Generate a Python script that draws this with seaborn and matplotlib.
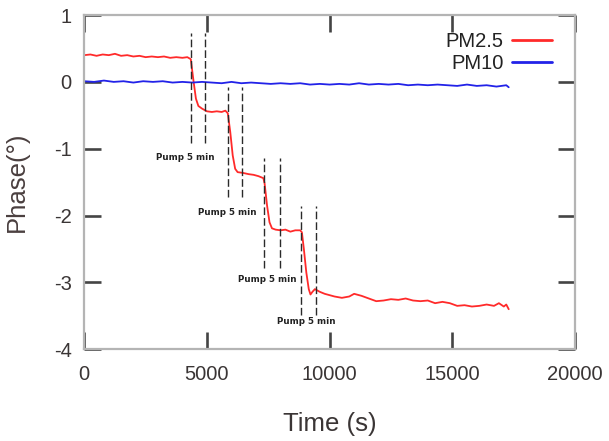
import matplotlib
matplotlib.use("Agg")
import matplotlib.pyplot as plt
import seaborn as sns
import pandas as pd

# ---- data ----
t_pm25 = [0, 250, 500, 750, 1000, 1250, 1500, 1750, 2000, 2250, 2500, 2750, 3000,
          3250, 3500, 3750, 4000, 4200, 4340, 4450, 4550, 4650, 4800, 5000, 5200,
          5400, 5600, 5750, 5850, 5950, 6050, 6150, 6250, 6450, 6700, 6900, 7100,
          7300, 7350, 7450, 7550, 7650, 7800, 8000, 8200, 8400, 8600, 8800, 8870,
          8950, 9050, 9150, 9220, 9300, 9400, 9600, 9800, 10000, 10200, 10500,
          10800, 11000, 11300, 11600, 11900, 12200, 12500, 12800, 13100, 13400,
          13700, 14000, 14300, 14600, 14900, 15200, 15500, 15800, 16100, 16400,
          16700, 16900, 17100, 17200, 17300]
v_pm25 = [0.40, 0.41, 0.39, 0.41, 0.40, 0.42, 0.39, 0.40, 0.38, 0.39, 0.37, 0.38, 0.37,
          0.38, 0.36, 0.37, 0.36, 0.37, 0.34, 0.02, -0.25, -0.36, -0.40, -0.44, -0.45,
          -0.44, -0.45, -0.43, -0.47, -0.75, -1.10, -1.30, -1.35, -1.36, -1.38, -1.39, -1.41,
          -1.44, -1.52, -1.85, -2.10, -2.19, -2.21, -2.22, -2.21, -2.24, -2.22, -2.22, -2.25,
          -2.50, -2.85, -3.10, -3.18, -3.14, -3.10, -3.14, -3.17, -3.19, -3.21, -3.23,
          -3.21, -3.17, -3.20, -3.24, -3.28, -3.27, -3.25, -3.26, -3.24, -3.27,
          -3.28, -3.27, -3.31, -3.29, -3.31, -3.35, -3.34, -3.36, -3.35, -3.33,
          -3.35, -3.31, -3.36, -3.33, -3.40]

t_pm10 = [0, 400, 800, 1200, 1600, 2000, 2400, 2800, 3200, 3600, 4000, 4400, 4800,
          5200, 5600, 6000, 6400, 6800, 7200, 7600, 8000, 8400, 8800, 9200, 9600,
          10000, 10400, 10800, 11200, 11600, 12000, 12400, 12800, 13200, 13600,
          14000, 14400, 14800, 15200, 15600, 16000, 16400, 16800, 17200, 17300]
v_pm10 = [0.01, 0.00, 0.02, 0.00, 0.01, -0.01, 0.01, 0.00, 0.01, -0.01, 0.00, -0.01, 0.00,
          -0.01, -0.02, 0.00, -0.02, -0.01, -0.02, -0.03, -0.02, -0.03, -0.02, -0.04, -0.03,
          -0.04, -0.03, -0.04, -0.02, -0.04, -0.03, -0.04, -0.03, -0.05, -0.04,
          -0.05, -0.04, -0.05, -0.06, -0.04, -0.06, -0.05, -0.07, -0.05, -0.08]

pump_starts = [4330, 5870, 7330, 8850]
pump_ends = [4900, 6420, 7960, 9440]
pump_top = [0.73, -0.07, -1.14, -1.86]
pump_bottom = [-0.92, -1.72, -2.78, -3.48]
pump_label_x = [4110, 5840, 7470, 9030]
pump_label_y = [-1.13, -1.95, -2.96, -3.59]
pump_label = "Pump 5 min"

series_names = ["PM2.5", "PM10"]
series_colors = ["#ff2a2a", "#2222e8"]
x_ticks = [0, 5000, 10000, 15000, 20000]
y_ticks = [1, 0, -1, -2, -3, -4]

# ---- build table ----
df = pd.concat([
    pd.DataFrame({"Time": t_pm25, "Phase": v_pm25, "Series": series_names[0]}),
    pd.DataFrame({"Time": t_pm10, "Phase": v_pm10, "Series": series_names[1]}),
], ignore_index=True)

sns.set_style("white")
plt.rcParams["font.family"] = ["Liberation Sans", "DejaVu Sans"]

fig = plt.figure(figsize=(6.09, 4.41), dpi=100)
ax = fig.add_axes([0.1384, 0.2079, 0.8057, 0.758])

sns.lineplot(data=df, x="Time", y="Phase", hue="Series", hue_order=series_names,
             palette=dict(zip(series_names, series_colors)), linewidth=1.3,
             ax=ax, estimator=None, sort=False)

for xs, xe, yt, yb in zip(pump_starts, pump_ends, pump_top, pump_bottom):
    for xv in (xs, xe):
        ax.plot([xv, xv], [yb, yt], color="#2a2a2a", lw=1.0, ls=(0, (5.5, 2.2)), zorder=3)

for lx, ly in zip(pump_label_x, pump_label_y):
    ax.text(lx, ly, pump_label, ha="center", va="center", fontsize=6.3,
            family="DejaVu Sans", fontweight="semibold", color="#222222")

ax.set_xlim(0, 20000)
ax.set_ylim(-4, 1)
ax.set_xticks(x_ticks)
ax.set_yticks(y_ticks)
ax.set_xticklabels([str(v) for v in x_ticks])
ax.set_yticklabels([str(v) for v in y_ticks])

for sp in ax.spines.values():
    sp.set_visible(True)
    sp.set_color("#b4b4b4")
    sp.set_linewidth(1.6)

ax.tick_params(axis="both", which="major", direction="in", length=12.5, width=1.9,
               color="#444444", top=True, right=True, bottom=True, left=True,
               labelsize=14.5, labelcolor="#3a3535")
ax.tick_params(axis="x", pad=11)
ax.tick_params(axis="y", pad=9)

ax.set_xlabel("Time (s)", fontsize=18.5, color="#3a3535")
ax.set_ylabel("Phase(°)", fontsize=18.5, color="#4a3f3f")
ax.xaxis.set_label_coords(0.5, -0.187)
ax.yaxis.set_label_coords(-0.112, 0.5)

handles, labels = ax.get_legend_handles_labels()
leg = ax.legend(handles, labels, loc="upper right", bbox_to_anchor=(0.953, 0.948),
                frameon=False, markerfirst=False, fontsize=14.5, handlelength=2.0,
                handletextpad=0.4, labelspacing=0.12, borderaxespad=0, borderpad=0)
for line in leg.get_lines():
    line.set_linewidth(2.0)
for txt in leg.get_texts():
    txt.set_color("#222222")

fig.savefig("out.png", dpi=100)
